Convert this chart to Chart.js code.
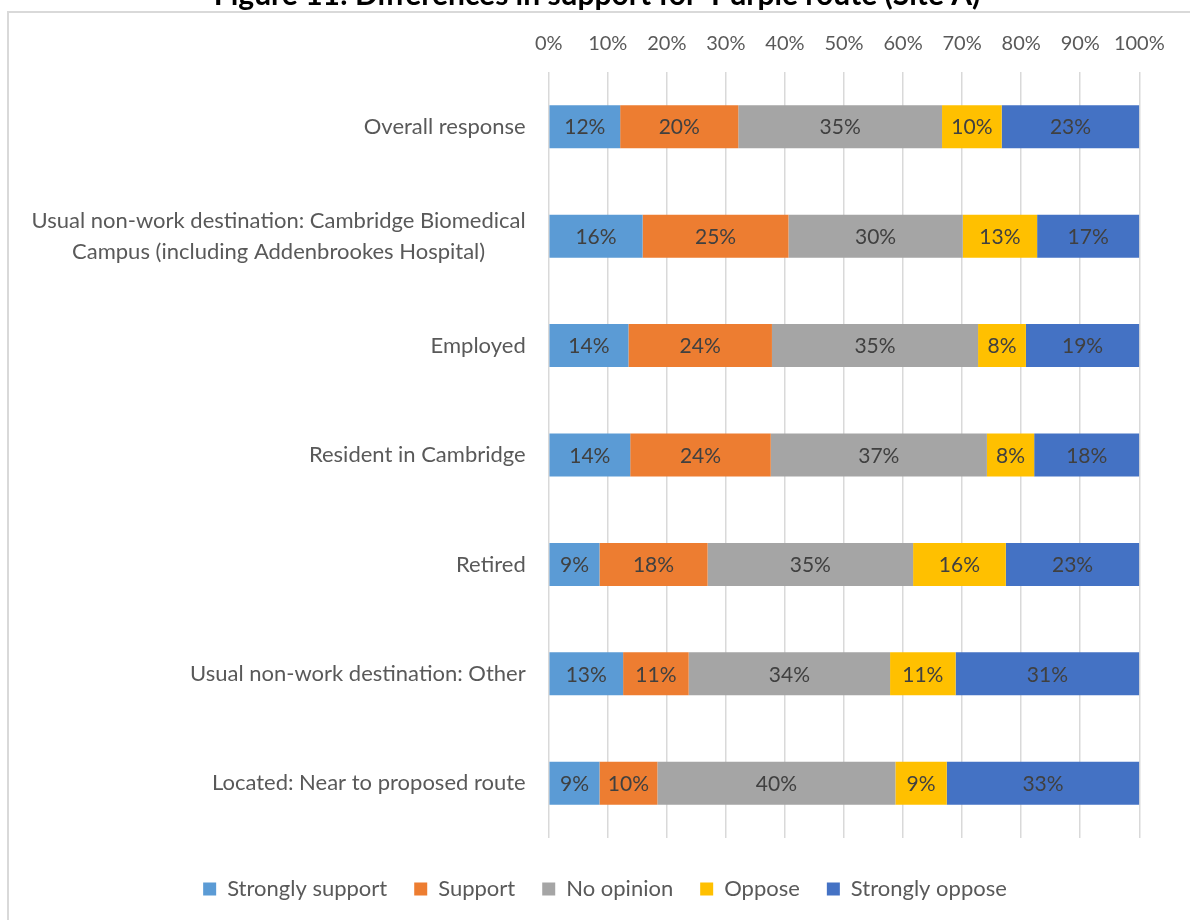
<!DOCTYPE html>
<html>
<head>
<meta charset="utf-8">
<script src="https://cdn.jsdelivr.net/npm/chart.js@4"></script>
<style>
  html, body { margin: 0; padding: 0; background: #ffffff; overflow: hidden; }
  #wrap { position: absolute; left: 0; top: 0; width: 1190px; height: 920px; }
</style>
</head>
<body>
<div id="wrap"><canvas id="c" width="1190" height="920"></canvas></div>
<script>
// ---- data ----
const titleText = "Figure 11: Differences in support for 'Purple route (Site A)";
const categories = [
  'Overall response',
  ['Usual non-work destination: Cambridge Biomedical', 'Campus (including Addenbrookes Hospital)'],
  'Employed',
  'Resident in Cambridge',
  'Retired',
  'Usual non-work destination: Other',
  'Located: Near to proposed route'
];
const seriesNames = ['Strongly support', 'Support', 'No opinion', 'Oppose', 'Strongly oppose'];
const strongSupport = [12.1, 15.9, 13.5, 13.8, 8.6, 12.6, 8.6];
const support       = [20.0, 24.7, 24.3, 23.8, 18.3, 11.1, 9.8];
const noOpinion     = [34.5, 29.5, 34.9, 36.6, 34.8, 34.1, 40.3];
const oppose        = [10.1, 12.6, 8.1, 8.0, 15.7, 11.1, 8.7];
const strongOppose  = [23.3, 17.3, 19.2, 17.8, 22.6, 31.1, 32.6];
const xTickStep = 10;
const xMin = 0, xMax = 100;

// ---- styles ----
const colors = ['#5B9BD5', '#ED7D31', '#A5A5A5', '#FFC000', '#4472C4'];
const FONT = 'Lato, "Open Sans", sans-serif';
const textGrey = '#595959';

const framePlugin = {
  id: 'frame',
  beforeDraw(chart) {
    const ctx = chart.ctx;
    ctx.save();
    ctx.fillStyle = '#ffffff';
    ctx.fillRect(0, 0, chart.width, chart.height);
    ctx.strokeStyle = '#d9d9d9';
    ctx.lineWidth = 2;
    ctx.strokeRect(8, 12, 3000, 3000);
    // caption (cut off at top like the reference)
    ctx.fillStyle = '#000000';
    ctx.font = 'bold 30px ' + FONT;
    ctx.textAlign = 'center';
    ctx.textBaseline = 'alphabetic';
    ctx.fillText(titleText, 597, 5);
    ctx.restore();
  },
  afterLayout(chart) {
    if (chart.legend) {
      chart.legend.top += 13;
      chart.legend.bottom += 13;
    }
  }
};

const yLabelPlugin = {
  id: 'ylabels',
  afterDraw(chart) {
    const ctx = chart.ctx;
    const ys = chart.scales.y;
    ctx.save();
    ctx.font = '22px ' + FONT;
    ctx.fillStyle = textGrey;
    ctx.textAlign = 'center';
    ctx.textBaseline = 'middle';
    const rightEdge = chart.chartArea.left - 23;
    categories.forEach((lab, i) => {
      const lines = Array.isArray(lab) ? lab : [lab];
      const y = ys.getPixelForValue(i);
      const maxW = Math.max(...lines.map(l => ctx.measureText(l).width));
      const cx = rightEdge - maxW / 2;
      const lh = 31;
      lines.forEach((l, j) => {
        ctx.fillText(l, cx, y + (j - (lines.length - 1) / 2) * lh);
      });
    });
    ctx.restore();
  }
};

const dataLabelPlugin = {
  id: 'barlabels',
  afterDatasetsDraw(chart) {
    const ctx = chart.ctx;
    ctx.save();
    ctx.font = '21px ' + FONT;
    ctx.fillStyle = '#404040';
    ctx.textAlign = 'center';
    ctx.textBaseline = 'middle';
    chart.data.datasets.forEach((ds, i) => {
      const meta = chart.getDatasetMeta(i);
      meta.data.forEach((bar, j) => {
        const p = bar.getProps(['x', 'y', 'base'], true);
        const v = ds.data[j];
        ctx.fillText(Math.round(v) + '%', (p.x + p.base) / 2, p.y + 1);
      });
    });
    ctx.restore();
  }
};

const seriesData = [strongSupport, support, noOpinion, oppose, strongOppose];

new Chart(document.getElementById('c'), {
  type: 'bar',
  data: {
    labels: categories,
    datasets: seriesNames.map((name, i) => ({
      label: name,
      data: seriesData[i],
      backgroundColor: colors[i],
      borderWidth: 0,
      categoryPercentage: 1,
      barPercentage: 0.393
    }))
  },
  options: {
    indexAxis: 'y',
    responsive: false,
    animation: false,
    devicePixelRatio: 1,
    layout: { padding: { left: 70.7, right: 50.7, top: 0, bottom: 23 } },
    plugins: {
      title: { display: false },
      tooltip: { enabled: false },
      legend: {
        display: true,
        position: 'bottom',
        align: 'center',
        labels: {
          boxWidth: 13,
          boxHeight: 13,
          padding: 27,
          color: textGrey,
          font: { family: FONT, size: 22 }
        }
      }
    },
    scales: {
      x: {
        position: 'top',
        stacked: true,
        min: xMin,
        max: xMax,
        afterFit(scale) { scale.height = 72; },
        ticks: {
          stepSize: xTickStep,
          padding: 16,
          color: textGrey,
          font: { family: FONT, size: 20 },
          maxRotation: 0,
          callback: v => v + '%'
        },
        grid: { color: '#d9d9d9', lineWidth: 1.5, drawTicks: false },
        border: { display: false }
      },
      y: {
        stacked: true,
        afterFit(scale) { scale.width = 478; },
        ticks: { display: false },
        grid: { display: false, drawTicks: false },
        border: { display: false }
      }
    }
  },
  plugins: [framePlugin, yLabelPlugin, dataLabelPlugin]
});
</script>
</body>
</html>
